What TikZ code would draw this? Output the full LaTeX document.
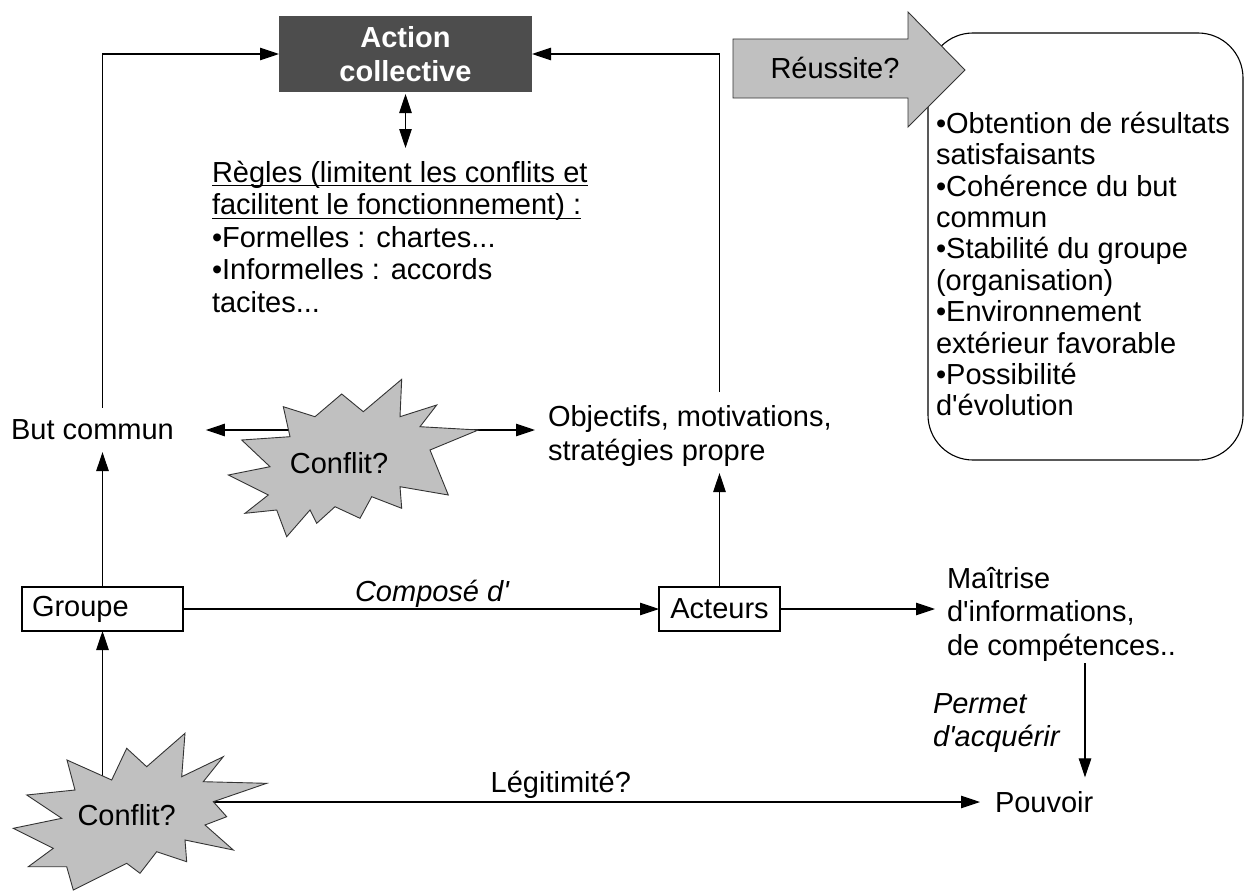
\documentclass[tikz,border=0pt]{standalone}
\usepackage{fontspec}
\setmainfont{Liberation Sans}[Ligatures=TeXOff]
\usetikzlibrary{arrows.meta,backgrounds}
\definecolor{boxdark}{HTML}{4D4D4D}
\definecolor{shapegray}{HTML}{C0C0C0}
% underline drawn just under the baseline
\newcommand\tightul[1]{\setbox0\hbox{#1}\rlap{\rule[-4pt]{\wd0}{1.2pt}}\box0}
\begin{document}
\begin{tikzpicture}[x=1pt,y=-1pt,
  txt/.style={inner sep=0pt, outer sep=0pt, font=\fontsize{29}{32}\selectfont},
  conn/.style={line width=1.1pt, -{Triangle[length=19pt,width=12.5pt]}},
  bothconn/.style={line width=1.1pt, {Triangle[length=19pt,width=12.5pt]}-{Triangle[length=19pt,width=12.5pt]}},
  smallbox/.style={txt, draw, line width=1.1pt, minimum height=44pt},
  burst/.style={fill=shapegray, draw=black!80, line width=0.9pt, line join=miter},
]
\useasboundingbox (0,0) rectangle (1248,891);

% central box
\node[txt, fill=boxdark, text=white, font=\bfseries\fontsize{29}{34}\selectfont,
      align=center, minimum width=253pt, minimum height=76pt] (action) at (405.5,54) {Action\\collective};

% rules
\node[txt, anchor=north west, align=left, font=\fontsize{29}{32.5}\selectfont] (regles) at (212,161)
  {\tightul{Règles (limitent les conflits et}\\\tightul{facilitent le fonctionnement) :}\\•Formelles : chartes...\\•Informelles : accords\\tacites...};

% success criteria box, then the arrow over its corner
\node[draw, line width=1.1pt, rounded corners=45pt, minimum width=315pt, minimum height=427pt] (resultats) at (1085.5,246.5) {};
\node[txt, anchor=north west, align=left, font=\fontsize{29}{31.4}\selectfont] (criteres) at (936,112)
  {•Obtention de résultats\\satisfaisants\\•Cohérence du but\\commun\\•Stabilité du groupe\\(organisation)\\•Environnement\\extérieur favorable\\•Possibilité\\d'évolution};
\draw[fill=shapegray, draw=black!80, line width=0.9pt, line join=miter]
  (733,39) -- (908,39) -- (908,12) -- (965,70) -- (908,127) -- (908,98) -- (733,98) -- cycle;
\node[txt] (reussite) at (835,68) {Réussite?};

% goals and actors
\node[txt] (butcommun) at (92.5,430) {But commun};
\node[txt, anchor=north west, align=left, font=\fontsize{29}{34}\selectfont] (objectifs) at (548,405)
  {Objectifs, motivations,\\stratégies propre};
\node[smallbox, text width=141pt, inner xsep=10pt, align=left] (groupe) at (102.5,609) {Groupe};
\node[smallbox, minimum width=121pt] (acteurs) at (719.5,609) {Acteurs};
\node[txt, anchor=north west, align=left, font=\fontsize{29}{33.5}\selectfont] (maitrise) at (947,567)
  {Maîtrise\\d'informations,\\de compétences..};
\node[txt, anchor=north west, align=left, font=\itshape\fontsize{29}{33}\selectfont] (permet) at (933,694)
  {Permet\\d'acquérir};
\node[txt, anchor=west] (pouvoir) at (995,802) {Pouvoir};

% conflict bursts
\draw[burst] (283.3,406.7) -- (315,416.7) -- (341.7,394) -- (363.3,411.7) -- (401.7,379.3) -- (400,416.7)
  -- (436.7,405) -- (420,426.7) -- (478.3,430) -- (430,450) -- (448.3,495) -- (400,486.7)
  -- (401.7,508.3) -- (371.7,496.7) -- (360,518.3) -- (335,506.7) -- (316.7,523.3) -- (310,510)
  -- (286.7,536.7) -- (276.7,510) -- (245,513.3) -- (268.3,495) -- (228.3,475) -- (270,466.7)
  -- (241.7,440) -- (290,436.7) -- cycle;
\node[txt] (conflitA) at (339,463) {Conflit?};

\draw[burst] (67,760) -- (111.7,780) -- (126.7,748.3) -- (146.7,766.7) -- (185,733.3) -- (181.7,776.7)
  -- (223.3,756.7) -- (203.3,781.7) -- (266.7,783.3) -- (213.3,801.7) -- (226.7,816.7) -- (205,825)
  -- (233.3,850) -- (185,840) -- (186.7,861.7) -- (156.7,851.7) -- (140,873.3) -- (126.7,863.3)
  -- (73.3,890) -- (66.7,866.7) -- (28.3,866.7) -- (53.3,848.3) -- (13.3,828.3) -- (61.7,818.3)
  -- (26.7,795) -- (75,790) -- cycle;
\node[txt] (conflitB) at (126.7,815) {Conflit?};

\coordinate (pouvoirline) at (1085,0);

% connectors
\begin{scope}[on background layer]
  \draw[conn, shorten <=12pt] (butcommun.north -| groupe.north) |- (action.west);
  \draw[conn, shorten <=13pt] (objectifs.north -| acteurs.north) |- (action.east);
  \draw[bothconn, shorten <=2pt, shorten >=13pt] (action.south) -- (action.south |- regles.north);
  \draw[bothconn, shorten <=32pt, shorten >=13pt] (butcommun.east) -- (objectifs.west |- butcommun.east);
  \draw[conn, shorten >=12pt] (groupe.north) -- (groupe.north |- butcommun.south);
  \draw[conn] (conflitB.center -| groupe.south) -- (groupe.south);
  \draw[conn] (groupe.east) -- node[txt, pos=0.523, above=1pt, font=\itshape\fontsize{29}{32}\selectfont] (compose) {Composé d'} (acteurs.west);
  \draw[conn, shorten >=12pt] (acteurs.east) -- (maitrise.west |- acteurs.east);
  \draw[conn, shorten >=7pt] (acteurs.north) -- (acteurs.north |- objectifs.south);
  \draw[conn, shorten <=2pt, shorten >=14pt] (maitrise.south -| pouvoirline) -- (pouvoir.north -| pouvoirline);
  \draw[conn, shorten >=15pt] (conflitB.center |- pouvoir.west) -- node[txt, midway, above=3pt] (legit) {Légitimité?} (pouvoir.west);
\end{scope}
\end{tikzpicture}
\end{document}
